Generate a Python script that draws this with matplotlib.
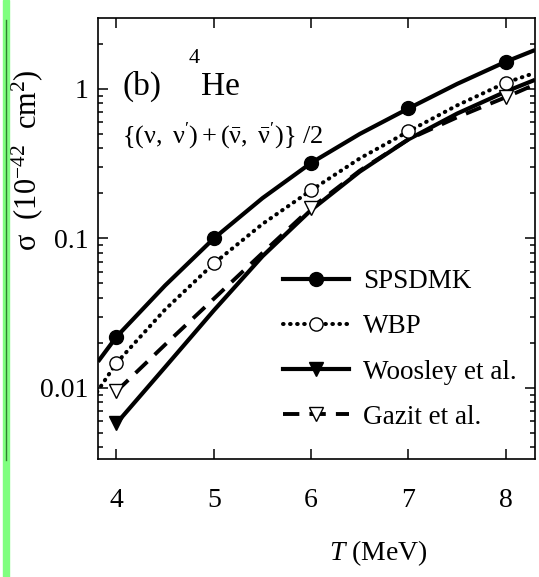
import numpy as np
import matplotlib
matplotlib.use("Agg")
import matplotlib.pyplot as plt
from matplotlib.ticker import LogLocator, FixedLocator, FixedFormatter, NullFormatter
from matplotlib.patches import Rectangle
from matplotlib.lines import Line2D

plt.rcParams['font.family'] = ['Liberation Serif', 'DejaVu Serif']
plt.rcParams['mathtext.fontset'] = 'custom'
plt.rcParams['mathtext.rm'] = 'Liberation Serif'
plt.rcParams['mathtext.it'] = 'Liberation Serif:italic'

# curves (sigma in 1e-42 cm^2)
spsdmk_T = [3.81, 4, 4.5, 5, 5.5, 6, 6.5, 7, 7.5, 8, 8.3]
spsdmk_sig = [0.015, 0.022, 0.0485, 0.10, 0.186, 0.32, 0.50, 0.74, 1.08, 1.52, 1.82]
wbp_T = [3.8, 4, 4.5, 5, 5.5, 6, 6.5, 7, 7.5, 8, 8.3]
wbp_sig = [0.0094, 0.0147, 0.0335, 0.068, 0.125, 0.21, 0.343, 0.52, 0.776, 1.10, 1.28]
woosley_T = [4, 4.5, 5, 5.5, 6, 6.5, 7, 7.5, 8, 8.3]
woosley_sig = [0.0058, 0.0138, 0.033, 0.076, 0.155, 0.28, 0.46, 0.684, 0.96, 1.15]
gazit_T = [4, 4.5, 5, 5.5, 6, 6.5, 7, 7.5, 8, 8.3]
gazit_sig = [0.0095, 0.0195, 0.0395, 0.080, 0.16, 0.284, 0.46, 0.646, 0.88, 1.07]

# marker points
spsdmk_mT = [4, 5, 6, 7, 8]
spsdmk_m = [0.022, 0.10, 0.32, 0.74, 1.52]
wbp_mT = [4, 5, 6, 7, 8]
wbp_m = [0.0147, 0.068, 0.21, 0.52, 1.10]
woosley_mT = [4]
woosley_m = [0.0058]
gazit_mT = [4, 6, 8]
gazit_m = [0.0095, 0.16, 0.88]

xticks = [4, 5, 6, 7, 8]
yticks = [0.01, 0.1, 1]
ytick_labels = ['0.01', '0.1', '1']

W, H = 539, 577
fig = plt.figure(figsize=(W / 100, H / 100), dpi=100)
ax = fig.add_axes([98 / W, 1 - 459 / H, 437 / W, 441 / H])

lw = 3.0
dotted = (0, (0.15, 1.6))
dashed = (0, (4.2, 2.6))
ax.plot(spsdmk_T, spsdmk_sig, color='k', lw=lw, solid_capstyle='butt',
        solid_joinstyle='round')
ax.plot(wbp_T, wbp_sig, color='k', lw=2.9, linestyle=dotted, dash_capstyle='round')
ax.plot(woosley_T, woosley_sig, color='k', lw=lw, solid_capstyle='butt',
        solid_joinstyle='round')
ax.plot(gazit_T, gazit_sig, color='k', lw=2.8, linestyle=dashed)

ax.plot(spsdmk_mT, spsdmk_m, 'o', color='k', ms=10)
ax.plot(wbp_mT, wbp_m, 'o', mfc='white', mec='k', mew=1.0, ms=9.5)
ax.plot(woosley_mT, woosley_m, 'v', color='k', ms=10)
ax.plot(gazit_mT, gazit_m, 'v', mfc='white', mec='k', mew=1.0, ms=10)

# legend handles
h1 = Line2D([], [], color='k', lw=lw, marker='o', ms=10)
h2 = Line2D([], [], color='k', lw=2.9, linestyle=dotted, dash_capstyle='round',
            marker='o', mfc='white', mec='k', ms=9.5)
h3 = Line2D([], [], color='k', lw=lw, marker='v', ms=10)
h4 = Line2D([], [], color='k', lw=2.8, linestyle=dashed,
            marker='v', mfc='white', mec='k', ms=10)
ax.legend([h1, h2, h3, h4], ['SPSDMK', 'WBP', 'Woosley et al.', 'Gazit et al.'],
          loc='upper left', bbox_to_anchor=(283 / W, 1 - 269 / H),
          bbox_transform=fig.transFigure, frameon=False, fontsize=19.5,
          handlelength=2.45, handletextpad=0.5, labelspacing=0.75,
          borderpad=0, borderaxespad=0, numpoints=1)

ax.set_yscale('log')
ax.set_xlim(3.81, 8.3)
ax.set_ylim(0.00335, 2.98)

ax.xaxis.set_major_locator(FixedLocator(xticks))
ax.yaxis.set_major_locator(FixedLocator(yticks))
ax.yaxis.set_major_formatter(FixedFormatter(ytick_labels))
ax.yaxis.set_minor_locator(LogLocator(base=10, subs=np.arange(2, 10)))
ax.yaxis.set_minor_formatter(NullFormatter())
ax.tick_params(which='both', direction='in', top=True, right=True, width=1.1)
ax.tick_params(which='major', length=7.5, labelsize=20)
ax.tick_params(which='minor', length=3.6)
ax.tick_params(axis='x', pad=21)
ax.tick_params(axis='y', pad=7)
for s in ax.spines.values():
    s.set_linewidth(1.2)

ax.set_xlabel(r'$T$ (MeV)', fontsize=20)
ax.xaxis.set_label_coords(378 / W, 1 - 538 / H, transform=fig.transFigure)
ax.set_ylabel(r'σ  (10$^{-42}$  cm$^{2}$)', fontsize=22)
ax.yaxis.set_label_coords(45 / W, 1 - 160 / H, transform=fig.transFigure)

# panel annotations
fig.text(122 / W, 1 - 95 / H, '(b)', fontsize=24, va='baseline')
fig.text(189 / W, 1 - 63 / H, '4', fontsize=16, va='baseline')
fig.text(201 / W, 1 - 95 / H, 'He', fontsize=24, va='baseline')
fig.text(122 / W, 1 - 143 / H,
         r"$\{(\mathrm{\nu},\ \mathrm{\nu}')+(\bar{\mathrm{\nu}},\ \bar{\mathrm{\nu}}')\}\ /2$",
         fontsize=19, va='baseline')

# green strip at the left edge
fig.patches.append(Rectangle((3 / W, 0), 6 / W, 1, transform=fig.transFigure,
                             color='#80ff80', zorder=0))
fig.lines.append(Line2D([5.5 / W, 5.5 / W], [1 - 460 / H, 1 - 20 / H],
                        transform=fig.transFigure, color='#2f7f2f', lw=1))

fig.savefig('out.png', dpi=100)
